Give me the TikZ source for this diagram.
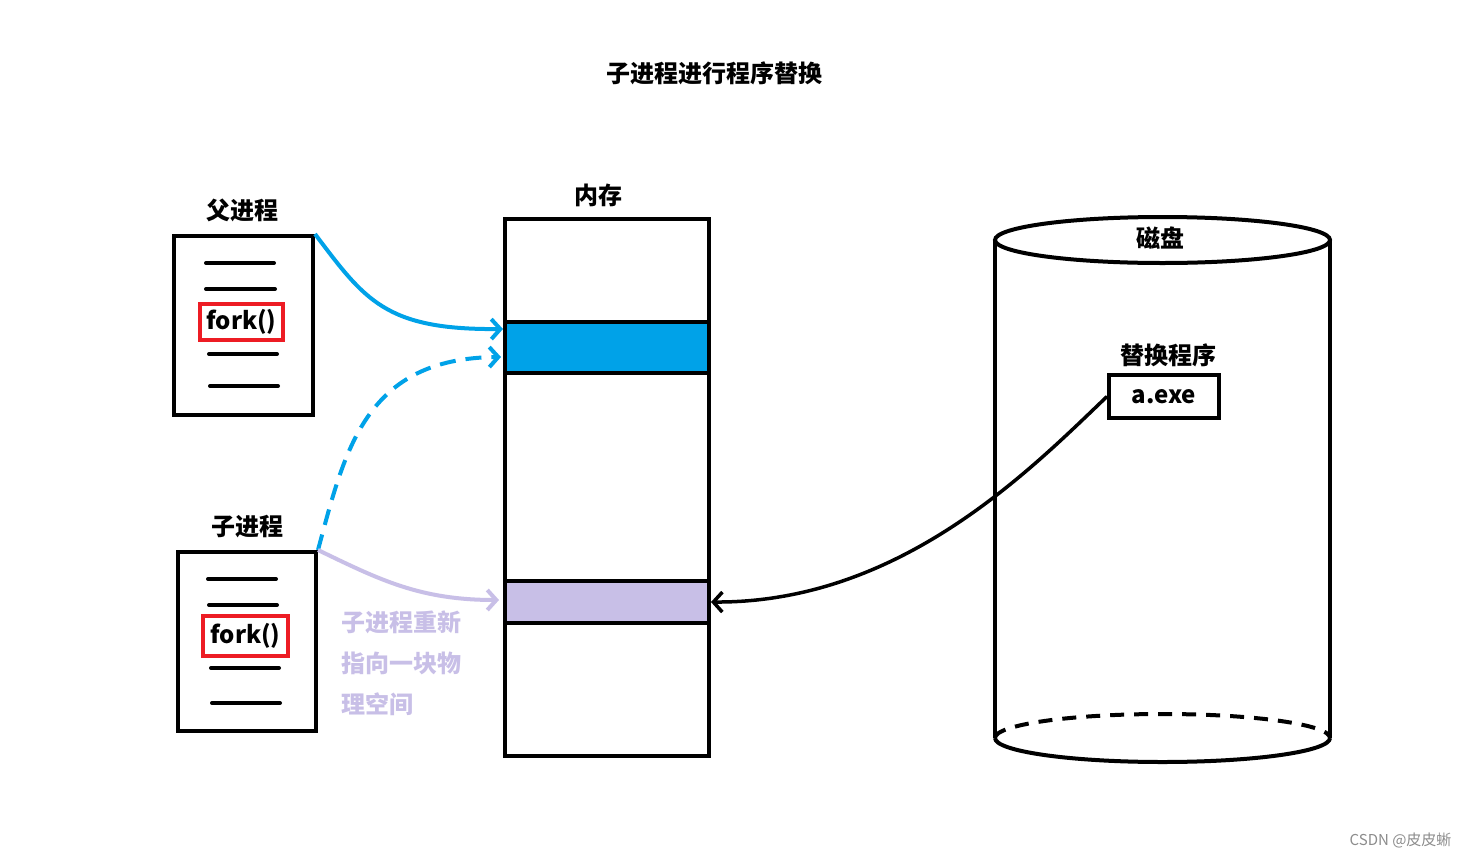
\documentclass[tikz,border=0pt]{standalone}
\usepackage{fontspec}
\setmainfont{Noto Sans CJK SC}
\usetikzlibrary{arrows.meta}
\definecolor{pblue}{HTML}{00A2E8}
\definecolor{plav}{HTML}{C8BFE7}
\definecolor{pred}{HTML}{ED1C24}
\tikzset{
  box/.style={draw=black,line width=4pt,fill=white,inner sep=0pt},
  band/.style={draw=black,line width=4pt,inner sep=0pt,minimum width=204pt},
  lbl/.style={font=\fontsize{24}{26}\selectfont\bfseries,inner sep=0pt},
  forkbox/.style={draw=pred,line width=3.5pt,inner sep=0pt,font=\fontsize{24}{26}\selectfont\bfseries},
  codeline/.style={line width=4pt,line cap=round},
  barb/.style={-{Straight Barb[length=9pt,width=20pt]}},
}
\begin{document}
\begin{tikzpicture}[x=1pt,y=-1pt]
\useasboundingbox[fill=white] (0,0) rectangle (1470,857);
% title
\node[lbl] (title) at (714,73) {子进程进行程序替换};
% memory
\node[lbl] (memlbl) at (598,195) {内存};
\node[box,minimum width=204pt,minimum height=537pt] (mem) at (607,487.5) {};
\node[band,fill=pblue,minimum height=51pt] (bblue) at (607,347.5) {};
\node[band,fill=plav,minimum height=42pt] (bplav) at (607,602) {};
% parent process
\node[lbl] (plbl) at (242,210) {父进程};
\node[box,minimum width=139pt,minimum height=179pt] (parent) at (243.5,325.5) {};
\draw[codeline] (206,263) coordinate (pl1a) -- (274,263) coordinate (pl1b);
\draw[codeline] (206,289) coordinate (pl2a) -- (275,289) coordinate (pl2b);
\node[forkbox,minimum width=83pt,minimum height=36pt] (pfork) at (241.5,322) {fork()};
\draw[codeline] (209,354) coordinate (pl3a) -- (277,354) coordinate (pl3b);
\draw[codeline] (210,386) coordinate (pl4a) -- (278,386) coordinate (pl4b);
% child process
\node[lbl] (clbl) at (247,527) {子进程};
\node[box,minimum width=138pt,minimum height=179pt] (child) at (247,641.5) {};
\draw[codeline] (208,579) coordinate (cl1a) -- (276,579) coordinate (cl1b);
\draw[codeline] (209,605) coordinate (cl2a) -- (277,605) coordinate (cl2b);
\node[forkbox,minimum width=85pt,minimum height=40pt] (cfork) at (245.5,636) {fork()};
\draw[codeline] (211,668) coordinate (cl3a) -- (279,668) coordinate (cl3b);
\draw[codeline] (212,703) coordinate (cl4a) -- (280,703) coordinate (cl4b);
% purple note
\node[lbl,text=plav,anchor=west] (n1) at (341,622) {子进程重新};
\node[lbl,text=plav,anchor=west] (n2) at (341,663) {指向一块物};
\node[lbl,text=plav,anchor=west] (n3) at (341,704) {理空间};
% disk
\draw[line width=4pt] (995,240) -- (995,738);
\draw[line width=4pt] (1330,240) -- (1330,738);
\draw[line width=4pt,fill=white] (1162.5,240) ellipse [x radius=167.5, y radius=23];
\draw[line width=4pt] (995,738) arc[start angle=180,end angle=0,x radius=167.5,y radius=24];
\draw[line width=4pt,dash pattern=on 14pt off 10pt] (995,738) arc[start angle=180,end angle=360,x radius=167.5,y radius=24];
\node[lbl] (disklbl) at (1160,238) {磁盘};
\node[lbl] (replbl) at (1168,355) {替换程序};
\node[box,minimum width=110pt,minimum height=43pt,font=\fontsize{24}{26}\selectfont\bfseries] (aexe) at (1164,396.5) {a.exe};
% connectors
\coordinate (pin) at (503,329);
\coordinate (cin) at (501,357);
\coordinate (lin) at (499,600);
\draw[pblue,line width=4pt,barb] (parent.north east) .. controls (365,300) and (385,330) .. (pin);
\draw[pblue,line width=4pt,barb,dash pattern=on 16pt off 10pt] (child.north east) .. controls (345,450) and (365,358) .. (cin);
\draw[plav,line width=4pt,barb] (child.north east) .. controls (380,580) and (420,600) .. (lin);
\draw[black,line width=3.5pt,barb] (aexe.west) .. controls (1030,470) and (900,603) .. (bplav.east);
% watermark
\node[font=\fontsize{15}{17}\selectfont,text=black!45,anchor=east] (wm) at (1455,840) {CSDN @皮皮蜥};
\end{tikzpicture}
\end{document}
